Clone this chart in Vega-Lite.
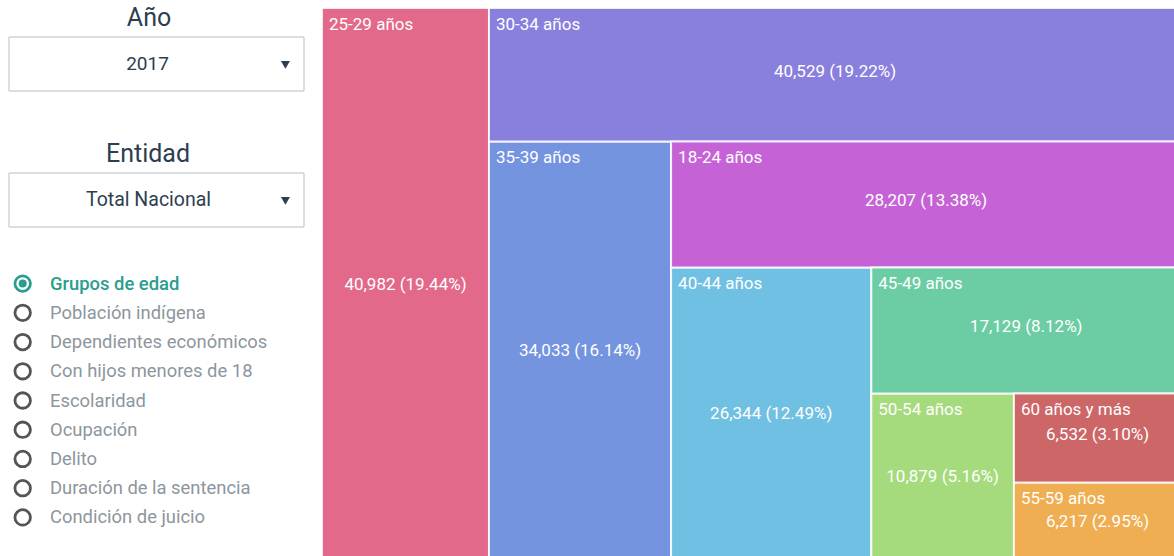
{
  "padding": {"left": 8, "top": 6, "right": 0, "bottom": 0},
  "config": {"font": "Roboto", "view": {"stroke": null}},
  "datasets": {
    "edades": [
      {"grupo": "25-29 años", "personas": 40982, "etiqueta": "40,982 (19.44%)"},
      {"grupo": "30-34 años", "personas": 40529, "etiqueta": "40,529 (19.22%)"},
      {"grupo": "35-39 años", "personas": 34033, "etiqueta": "34,033 (16.14%)"},
      {"grupo": "18-24 años", "personas": 28207, "etiqueta": "28,207 (13.38%)"},
      {"grupo": "40-44 años", "personas": 26344, "etiqueta": "26,344 (12.49%)"},
      {"grupo": "45-49 años", "personas": 17129, "etiqueta": "17,129 (8.12%)"},
      {"grupo": "50-54 años", "personas": 10879, "etiqueta": "10,879 (5.16%)"},
      {"grupo": "60 años y más", "personas": 6532, "etiqueta": "6,532 (3.10%)"},
      {"grupo": "55-59 años", "personas": 6217, "etiqueta": "6,217 (2.95%)"}
    ],
    "opciones": [
      {"opcion": "Grupos de edad", "activo": true},
      {"opcion": "Población indígena", "activo": false},
      {"opcion": "Dependientes económicos", "activo": false},
      {"opcion": "Con hijos menores de 18", "activo": false},
      {"opcion": "Escolaridad", "activo": false},
      {"opcion": "Ocupación", "activo": false},
      {"opcion": "Delito", "activo": false},
      {"opcion": "Duración de la sentencia", "activo": false},
      {"opcion": "Condición de juicio", "activo": false}
    ]
  },
  "spacing": 16,
  "hconcat": [
    {
      "spacing": 41,
      "vconcat": [
        {
          "spacing": 50,
          "vconcat": [
            {
              "width": 295, "height": 83,
              "data": {"values": [{"titulo": "Año", "valor": "2017"}]},
              "layer": [
                {"mark": {"type": "rect", "fill": "white", "stroke": "#b9c0c6", "strokeWidth": 1},
                 "encoding": {"x": {"datum": 0, "type": "quantitative", "scale": {"domain": [0, 1], "nice": false, "zero": false}, "axis": null}, "x2": {"datum": 1},
                              "y": {"datum": 0, "type": "quantitative", "scale": {"domain": [0, 1], "nice": false, "zero": false}, "axis": null}, "y2": {"datum": 0.6506}}},
                {"mark": {"type": "text", "fontSize": 25, "fill": "#2c3e50", "baseline": "alphabetic"},
                 "encoding": {"x": {"datum": 0.4746, "type": "quantitative"}, "y": {"datum": 0.7831, "type": "quantitative"}, "text": {"field": "titulo"}}},
                {"mark": {"type": "text", "fontSize": 19, "fill": "#2c3e50", "baseline": "middle"},
                 "encoding": {"x": {"datum": 0.4695, "type": "quantitative"}, "y": {"datum": 0.323, "type": "quantitative"}, "text": {"field": "valor"}}},
                {"mark": {"type": "point", "shape": "triangle-down", "filled": true, "size": 80, "fill": "#2c3e50", "opacity": 1},
                 "encoding": {"x": {"datum": 0.937, "type": "quantitative"}, "y": {"datum": 0.315, "type": "quantitative"}}}
              ]
            },
            {
              "width": 295, "height": 83,
              "data": {"values": [{"titulo": "Entidad", "valor": "Total Nacional"}]},
              "layer": [
                {"mark": {"type": "rect", "fill": "white", "stroke": "#b9c0c6", "strokeWidth": 1},
                 "encoding": {"x": {"datum": 0, "type": "quantitative", "scale": {"domain": [0, 1], "nice": false, "zero": false}, "axis": null}, "x2": {"datum": 1},
                              "y": {"datum": 0, "type": "quantitative", "scale": {"domain": [0, 1], "nice": false, "zero": false}, "axis": null}, "y2": {"datum": 0.6506}}},
                {"mark": {"type": "text", "fontSize": 25, "fill": "#2c3e50", "baseline": "alphabetic"},
                 "encoding": {"x": {"datum": 0.4712, "type": "quantitative"}, "y": {"datum": 0.7831, "type": "quantitative"}, "text": {"field": "titulo"}}},
                {"mark": {"type": "text", "fontSize": 19.5, "fill": "#2c3e50", "baseline": "middle"},
                 "encoding": {"x": {"datum": 0.473, "type": "quantitative"}, "y": {"datum": 0.323, "type": "quantitative"}, "text": {"field": "valor"}}},
                {"mark": {"type": "point", "shape": "triangle-down", "filled": true, "size": 80, "fill": "#2c3e50", "opacity": 1},
                 "encoding": {"x": {"datum": 0.937, "type": "quantitative"}, "y": {"datum": 0.315, "type": "quantitative"}}}
              ]
            }
          ]
        },
        {
          "width": 295, "height": 263,
          "data": {"name": "opciones"},
          "layer": [
            {"mark": {"type": "point", "shape": "circle", "filled": false, "size": 240, "strokeWidth": 2.8, "opacity": 1},
             "encoding": {
               "x": {"datum": 0.0464, "type": "quantitative", "scale": {"domain": [0, 1], "nice": false, "zero": false}, "axis": null},
               "y": {"field": "opcion", "type": "nominal", "axis": null,
                     "scale": {"domain": ["Grupos de edad", "Población indígena", "Dependientes económicos", "Con hijos menores de 18", "Escolaridad", "Ocupación", "Delito", "Duración de la sentencia", "Condición de juicio"], "padding": 0.5}},
               "stroke": {"condition": {"test": {"field": "activo", "equal": true}, "value": "#2a9d8f"}, "value": "#555555"}
             }},
            {"transform": [{"filter": {"field": "activo", "equal": true}}],
             "mark": {"type": "point", "shape": "circle", "filled": true, "size": 64, "opacity": 1, "fill": "#2a9d8f"},
             "encoding": {"x": {"datum": 0.0464, "type": "quantitative"}, "y": {"field": "opcion", "type": "nominal"}}},
            {"transform": [{"filter": {"field": "activo", "equal": true}}],
             "mark": {"type": "text", "align": "left", "baseline": "middle", "fontSize": 18.4, "fontWeight": 500, "fill": "#2a9d8f"},
             "encoding": {"x": {"datum": 0.139, "type": "quantitative"}, "y": {"field": "opcion", "type": "nominal"}, "text": {"field": "opcion"}}},
            {"transform": [{"filter": {"field": "activo", "equal": false}}],
             "mark": {"type": "text", "align": "left", "baseline": "middle", "fontSize": 18.4, "fill": "#8c969e"},
             "encoding": {"x": {"datum": 0.139, "type": "quantitative"}, "y": {"field": "opcion", "type": "nominal"}, "text": {"field": "opcion"}}}
          ]
        }
      ]
    },
    {
      "width": 851, "height": 548,
      "data": {"name": "edades"},
      "transform": [
        {"window": [{"op": "row_number", "as": "rn"}], "sort": [{"field": "personas", "order": "descending"}], "ignorePeers": true},
        {"bin": {"step": 2, "extent": [1, 11], "nice": false}, "field": "rn", "as": "par"},
        {"window": [{"op": "row_number", "as": "lado"}], "groupby": ["par"], "sort": [{"field": "personas", "order": "descending"}], "ignorePeers": true},
        {"stack": "personas", "groupby": [], "offset": "zero", "sort": [{"field": "personas", "order": "ascending"}], "as": ["resto", "S"]},
        {"fold": ["resto", "personas"], "as": ["parte", "monto"]},
        {"stack": "monto", "groupby": ["grupo"], "offset": "normalize", "sort": [{"field": "parte", "order": "descending"}], "as": ["q_ini", "q"]},
        {"filter": {"field": "parte", "equal": "resto"}},
        {"window": [{"op": "product", "field": "q", "as": "propio"}], "groupby": ["lado"], "sort": [{"field": "rn", "order": "ascending"}], "ignorePeers": true},
        {"window": [{"op": "lag", "field": "propio", "param": 1, "as": "propio_ant"}], "groupby": ["lado"], "sort": [{"field": "rn", "order": "ascending"}], "ignorePeers": true},
        {"window": [{"op": "lag", "field": "propio", "param": 1, "as": "cruce_ant"}], "sort": [{"field": "rn", "order": "ascending"}], "ignorePeers": true},
        {"joinaggregate": [{"op": "valid", "field": "personas", "as": "uno"}, {"op": "missing", "field": "personas", "as": "cero"}], "groupby": ["grupo"]},
        {"fold": ["propio_ant", "uno"], "as": ["k1", "v1"]},
        {"joinaggregate": [{"op": "min", "field": "v1", "as": "E"}], "groupby": ["grupo"]},
        {"filter": {"field": "k1", "equal": "uno"}},
        {"fold": ["cruce_ant", "uno"], "as": ["k2", "v2"]},
        {"joinaggregate": [{"op": "min", "field": "v2", "as": "C"}], "groupby": ["grupo"]},
        {"filter": {"field": "k2", "equal": "uno"}}
      ],
      "layer": [
        {"transform": [{"filter": {"field": "lado", "equal": 1}}],
         "mark": {"type": "rect", "stroke": "white", "strokeWidth": 2, "strokeOpacity": 0.85},
         "encoding": {
           "x": {"field": "E", "type": "quantitative", "scale": {"domain": [0.0094, 1], "nice": false, "zero": false, "reverse": true}, "axis": null},
           "x2": {"field": "propio"},
           "y": {"field": "C", "type": "quantitative", "scale": {"domain": [0.02, 1], "nice": false, "zero": false}, "axis": null},
           "y2": {"datum": 0},
           "color": {"field": "grupo", "type": "nominal", "legend": null,
             "scale": {"domain": ["25-29 años", "30-34 años", "35-39 años", "18-24 años", "40-44 años", "45-49 años", "50-54 años", "60 años y más", "55-59 años"],
                       "range": ["#e3698a", "#897fdd", "#7494e0", "#c563d6", "#6fc0e2", "#6ccda5", "#a6db7d", "#cd6667", "#efae52"]}}
         }},
        {"transform": [{"filter": {"field": "lado", "equal": 2}}],
         "mark": {"type": "rect", "stroke": "white", "strokeWidth": 2, "strokeOpacity": 0.85},
         "encoding": {
           "x": {"field": "C", "type": "quantitative"},
           "x2": {"datum": 0},
           "y": {"field": "E", "type": "quantitative"},
           "y2": {"field": "propio"},
           "color": {"field": "grupo", "type": "nominal", "legend": null}
         }},
        {"transform": [{"filter": {"field": "lado", "equal": 1}}],
         "mark": {"type": "text", "align": "left", "baseline": "top", "dx": 7, "dy": 9, "fontSize": 17, "fill": "white"},
         "encoding": {"x": {"field": "E", "type": "quantitative"}, "y": {"field": "C", "type": "quantitative"}, "text": {"field": "grupo"}}},
        {"transform": [{"filter": {"field": "lado", "equal": 2}}],
         "mark": {"type": "text", "align": "left", "baseline": "top", "dx": 7, "dy": 9, "fontSize": 17, "fill": "white"},
         "encoding": {"x": {"field": "C", "type": "quantitative"}, "y": {"field": "E", "type": "quantitative"}, "text": {"field": "grupo"}}},
        {"transform": [
           {"filter": {"field": "lado", "equal": 1}},
           {"fold": ["E", "propio"], "as": ["kx", "vx"]},
           {"joinaggregate": [{"op": "mean", "field": "vx", "as": "xm"}], "groupby": ["grupo"]},
           {"filter": {"field": "kx", "equal": "E"}},
           {"fold": ["C", "cero"], "as": ["ky", "vy"]},
           {"joinaggregate": [{"op": "mean", "field": "vy", "as": "ym"}], "groupby": ["grupo"]},
           {"filter": {"field": "ky", "equal": "C"}}
         ],
         "mark": {"type": "text", "align": "center", "baseline": "middle", "fontSize": 17, "fill": "white", "dy": -3},
         "encoding": {"x": {"field": "xm", "type": "quantitative"}, "y": {"field": "ym", "type": "quantitative"}, "text": {"field": "etiqueta"}}},
        {"transform": [
           {"filter": {"field": "lado", "equal": 2}},
           {"fold": ["C", "cero"], "as": ["kx", "vx"]},
           {"joinaggregate": [{"op": "mean", "field": "vx", "as": "xm"}], "groupby": ["grupo"]},
           {"filter": {"field": "kx", "equal": "C"}},
           {"fold": ["E", "propio"], "as": ["ky", "vy"]},
           {"joinaggregate": [{"op": "mean", "field": "vy", "as": "ym"}], "groupby": ["grupo"]},
           {"filter": {"field": "ky", "equal": "E"}}
         ],
         "mark": {"type": "text", "align": "center", "baseline": "middle", "fontSize": 17, "fill": "white", "dy": -3},
         "encoding": {"x": {"field": "xm", "type": "quantitative"}, "y": {"field": "ym", "type": "quantitative"}, "text": {"field": "etiqueta"}}}
      ]
    }
  ]
}
